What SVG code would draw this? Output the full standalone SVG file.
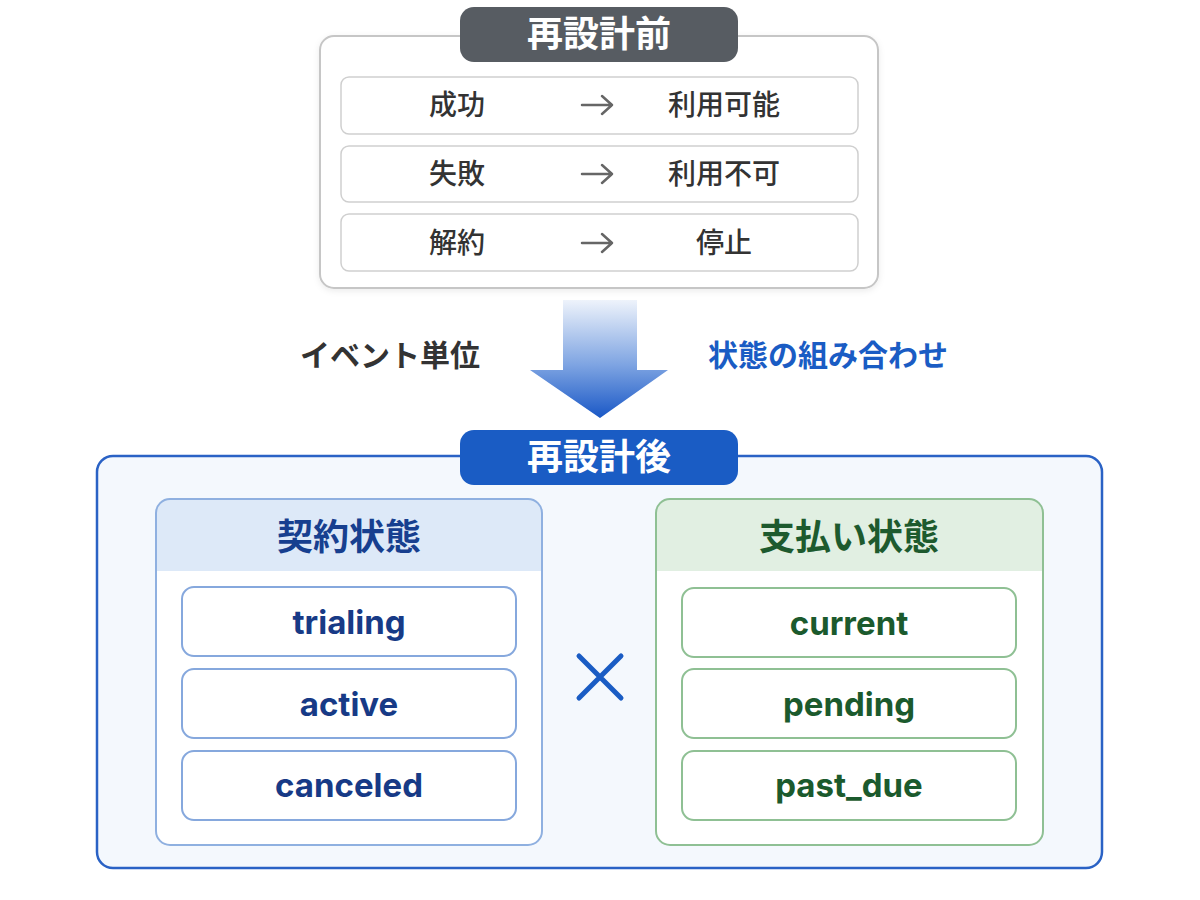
<svg xmlns="http://www.w3.org/2000/svg" width="1200" height="900" viewBox="0 0 1200 900">
<defs>
<linearGradient id="arrowGrad" x1="0" y1="0" x2="0" y2="1">
<stop offset="0" stop-color="#eef3fb"/>
<stop offset="0.55" stop-color="#7ea4e2"/>
<stop offset="1" stop-color="#1a58c6"/>
</linearGradient>
<filter id="shadow" x="-5%" y="-5%" width="110%" height="115%">
<feDropShadow dx="0" dy="2" stdDeviation="3" flood-color="#000" flood-opacity="0.08"/>
</filter>
<style>
.jp{font-family:"Noto Sans CJK JP","Noto Sans",sans-serif;font-weight:700}
.en{font-family:"Inter","Noto Sans",sans-serif;font-weight:700}
.row{fill:#fff;stroke:#cfcfcf;stroke-width:1.5}
.rowtxt{font-size:28px;fill:#333;text-anchor:middle;font-weight:500}
.arr{stroke:#666;stroke-width:2.5;fill:none;stroke-linecap:round;stroke-linejoin:round}
.bitem{fill:#fff;stroke:#86a8dd;stroke-width:2}
.gitem{fill:#fff;stroke:#8fc094;stroke-width:2}
.btxt{font-size:33px;fill:#173a86;text-anchor:middle}
.gtxt{font-size:33px;fill:#1b5a2d;text-anchor:middle}
.pill{font-size:36px;fill:#fff;text-anchor:middle}
</style>
</defs>
<rect width="1200" height="900" fill="#ffffff"/>

<g id="before">
<rect x="320" y="36" width="558" height="252" rx="14" fill="#ffffff" stroke="#c6c6c6" stroke-width="2" filter="url(#shadow)"/>
<rect x="460" y="7" width="278" height="55" rx="14" fill="#575c62"/>
<text class="jp pill" x="599" y="47">再設計前</text>
<g id="row1">
<rect class="row" x="341" y="77" width="517" height="57" rx="8"/>
<text class="jp rowtxt" x="457" y="115">成功</text>
<path class="arr" d="M582 105 H612 M602 96 L612 105 L602 114"/>
<text class="jp rowtxt" x="724" y="115">利用可能</text>
</g>
<g id="row2">
<rect class="row" x="341" y="146" width="517" height="56" rx="8"/>
<text class="jp rowtxt" x="457" y="184">失敗</text>
<path class="arr" d="M582 174 H612 M602 165 L612 174 L602 183"/>
<text class="jp rowtxt" x="724" y="184">利用不可</text>
</g>
<g id="row3">
<rect class="row" x="341" y="214" width="517" height="57" rx="8"/>
<text class="jp rowtxt" x="457" y="253">解約</text>
<path class="arr" d="M582 243 H612 M602 234 L612 243 L602 252"/>
<text class="jp rowtxt" x="724" y="253">停止</text>
</g>
</g>

<g id="connectors">
<path d="M563 300 H637 V370 H668 L600 418 L530 370 H563 Z" fill="url(#arrowGrad)"/>
<text class="jp" x="390" y="366" font-size="30" fill="#333" text-anchor="middle">イベント単位</text>
<text class="jp" x="828" y="366" font-size="30" fill="#1a5cc4" text-anchor="middle">状態の組み合わせ</text>
</g>

<g id="after">
<rect x="97" y="456" width="1005" height="412" rx="16" fill="#f4f8fd" stroke="#2a62c5" stroke-width="2.5"/>
<rect x="460" y="430" width="278" height="55" rx="14" fill="#1a5cc4"/>
<text class="jp pill" x="599" y="470">再設計後</text>
</g>

<g id="contract">
<rect x="156" y="499" width="386" height="346" rx="14" fill="#ffffff"/>
<path d="M170 499 H528 A14 14 0 0 1 542 513 V571 H156 V513 A14 14 0 0 1 170 499 Z" fill="#dde9f8"/>
<rect x="156" y="499" width="386" height="346" rx="14" fill="none" stroke="#8fb0e0" stroke-width="2"/>
<text class="jp" x="349" y="550" font-size="36" fill="#173f8f" text-anchor="middle">契約状態</text>
<g id="trialing"><rect class="bitem" x="182" y="587" width="334" height="69" rx="12"/><text class="en btxt" x="349" y="634">trialing</text></g>
<g id="active"><rect class="bitem" x="182" y="669" width="334" height="69" rx="12"/><text class="en btxt" x="349" y="716">active</text></g>
<g id="canceled"><rect class="bitem" x="182" y="751" width="334" height="69" rx="12"/><text class="en btxt" x="349" y="797">canceled</text></g>
</g>

<g id="times">
<path d="M579 656 L621 698 M621 656 L579 698" stroke="#1a5cc4" stroke-width="5" stroke-linecap="round"/>
</g>

<g id="payment">
<rect x="656" y="499" width="387" height="346" rx="14" fill="#ffffff"/>
<path d="M670 499 H1029 A14 14 0 0 1 1043 513 V571 H656 V513 A14 14 0 0 1 670 499 Z" fill="#e1efe2"/>
<rect x="656" y="499" width="387" height="346" rx="14" fill="none" stroke="#8fc094" stroke-width="2"/>
<text class="jp" x="849" y="550" font-size="36" fill="#1d5a2e" text-anchor="middle">支払い状態</text>
<g id="current"><rect class="gitem" x="682" y="588" width="334" height="69" rx="12"/><text class="en gtxt" x="849" y="635">current</text></g>
<g id="pending"><rect class="gitem" x="682" y="669" width="334" height="69" rx="12"/><text class="en gtxt" x="849" y="716">pending</text></g>
<g id="past_due"><rect class="gitem" x="682" y="751" width="334" height="69" rx="12"/><text class="en gtxt" x="849" y="797">past_due</text></g>
</g>
</svg>
